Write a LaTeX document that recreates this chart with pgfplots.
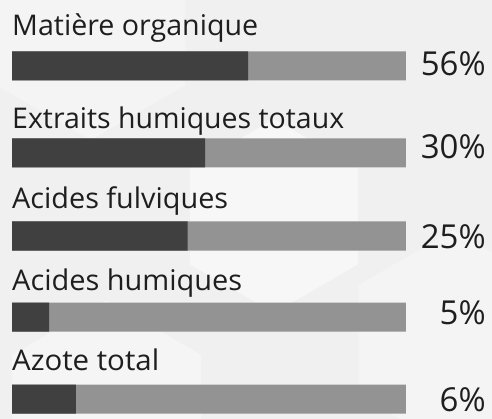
\documentclass[border=0pt]{standalone}
\usepackage{fontspec}
\setmainfont{Open Sans}
\usepackage{graphicx}
\usepackage{pgfplots}
\usepackage{pgfplotstable}
\pgfplotsset{compat=1.18}
\definecolor{darkbar}{HTML}{404040}
\definecolor{track}{HTML}{939393}
\definecolor{txt}{HTML}{1E1E1E}
\definecolor{bg}{HTML}{F0F0F0}
\definecolor{hexa}{HTML}{F7F7F7}

% y = vertical centre of each bar (pixels from top), drawn = length of dark part (% of track)
\pgfplotstableread{
y   full drawn
66  100  59.9
153 100  49.0
236 100  44.6
317 100  9.4
399 100  16.2
}\data

\newcommand{\lab}[2]{\resizebox{#1pt}{\height}{\fontsize{28.5}{30}\selectfont #2}}

\begin{document}
\begin{tikzpicture}
\begin{axis}[
  name=ax,
  width=492pt, height=419pt, scale only axis,
  xmin=-3.046, xmax=121.83, ymin=0, ymax=419,
  y dir=reverse,
  hide axis, clip=false,
  xbar, bar shift=0pt, bar width=29,
]
% background
\fill[bg] (axis cs:-3.046,0) rectangle (axis cs:121.83,419);
\fill[hexa] (axis cs:66.5,119) -- (axis cs:87.8,167.5) -- (axis cs:87.8,264.5) -- (axis cs:66.5,313) -- (axis cs:45.2,264.5) -- (axis cs:45.2,167.5) -- cycle;
\fill[hexa,opacity=0.7] (axis cs:20,-80) -- (axis cs:44,-25) -- (axis cs:44,85) -- (axis cs:20,140) -- (axis cs:-4,85) -- (axis cs:-4,-25) -- cycle;
\fill[hexa,opacity=0.6] (axis cs:112,230) -- (axis cs:136,285) -- (axis cs:136,395) -- (axis cs:112,450) -- (axis cs:88,395) -- (axis cs:88,285) -- cycle;
\fill[white,opacity=0.35] (axis cs:24,300) -- (axis cs:48,355) -- (axis cs:48,419) -- (axis cs:0,419) -- (axis cs:0,355) -- cycle;

\addplot[draw=none, fill=track] table[x=full, y=y]{\data};
\addplot[draw=none, fill=darkbar] table[x=drawn, y=y]{\data};

\begin{scope}[every node/.style={inner sep=0pt, text=txt}]
\node[anchor=base west] at (axis cs:0,35.5) {\lab{246}{Matière organique}};
\node[anchor=base west] at (axis cs:0,129) {\lab{332}{Extraits humiques totaux}};
\node[anchor=base west] at (axis cs:0,209) {\lab{216}{Acides fulviques}};
\node[anchor=base west] at (axis cs:0,290) {\lab{230}{Acides humiques}};
\node[anchor=base west] at (axis cs:0,370) {\lab{147}{Azote total}};
\node[anchor=base east, font=\fontsize{33}{34}\selectfont] at (axis cs:120.3,76) {56\%};
\node[anchor=base east, font=\fontsize{33}{34}\selectfont] at (axis cs:120.3,159) {30\%};
\node[anchor=base east, font=\fontsize{33}{34}\selectfont] at (axis cs:120.3,248) {25\%};
\node[anchor=base east, font=\fontsize{33}{34}\selectfont] at (axis cs:120.3,324) {5\%};
\node[anchor=base east, font=\fontsize{33}{34}\selectfont] at (axis cs:120.3,411) {6\%};
\end{scope}
\end{axis}
\pgfresetboundingbox
\path (ax.south west) rectangle (ax.north east);
\end{tikzpicture}
\end{document}
